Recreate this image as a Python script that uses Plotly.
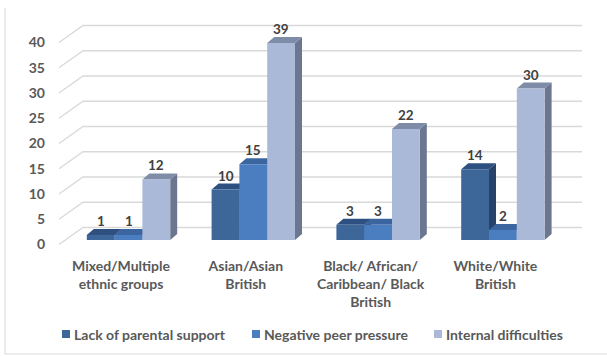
import plotly.graph_objects as go

# ---- data ----
categories = ["Mixed/Multiple<br>ethnic groups", "Asian/Asian<br>British",
              "Black/ African/<br>Caribbean/ Black<br>British", "White/White<br>British"]
series_names = ["Lack of parental support", "Negative peer pressure", "Internal difficulties"]
lack_of_parental_support = [1, 10, 3, 14]
negative_peer_pressure = [1, 15, 3, 2]
internal_difficulties = [12, 39, 22, 30]
y_ticks = [0, 5, 10, 15, 20, 25, 30, 35, 40]

series_values = [lack_of_parental_support, negative_peer_pressure, internal_difficulties]
front_colors = ["#3d6699", "#4a7ec0", "#aab9d7"]
top_colors = ["#2e5080", "#3a659e", "#7f8ca8"]
side_colors = ["#27436a", "#33578a", "#6a778e"]

# ---- geometry (pixels) ----
W_FIG, H_FIG = 607, 356
L, R, T, B = 52, 595, 15, 252
PX_PER_CAT = 124.8
CAT0_PX = 128.5
PX_PER_UNIT = 5.05
BASE_PX = 240
BAR_W = 27.8 / PX_PER_CAT
DEPTH_DX, DEPTH_DY = 7, 6          # bar depth in px (right, up)
FRONT_DY = 4.5                     # front plane sits lower than bar plane
BACK_DY = 12.5                     # back wall sits higher than bar plane
FRONT_X_PX, BACK_X_PX, END_X_PX = 59, 83, 582
CAT_SHIFT = 7.5 / PX_PER_CAT

x_range = [(L - CAT0_PX) / PX_PER_CAT, (R - CAT0_PX) / PX_PER_CAT]
y_range = [(BASE_PX - B) / PX_PER_UNIT, (BASE_PX - T) / PX_PER_UNIT]


def xu(px):
    return (px - CAT0_PX) / PX_PER_CAT


def dxu(px):
    return px / PX_PER_CAT


def dyu(px):
    return px / PX_PER_UNIT


def px_to_paper_x(px):
    return (px - L) / (R - L)


def px_to_paper_y(py):
    return (B - py) / (B - T)


fig = go.Figure()
shapes = []
annotations = []

# back wall gridlines with the left-wall diagonals
for v in y_ticks:
    yf = v - dyu(FRONT_DY)
    yb = v + dyu(BACK_DY)
    path = f"M {xu(FRONT_X_PX)} {yf} L {xu(BACK_X_PX)} {yb} L {xu(END_X_PX)} {yb}"
    shapes.append(dict(type="path", path=path, xref="x", yref="y",
                       line=dict(color="#d9d9d9", width=1.3), layer="below"))

# bars: front faces as traces, top and side faces as shapes
for i, (name, vals) in enumerate(zip(series_names, series_values)):
    offset = -1.5 * BAR_W + i * BAR_W
    fig.add_trace(go.Bar(
        x=list(range(len(vals))), y=vals, name=name,
        width=BAR_W, offset=offset,
        marker=dict(color=front_colors[i], line=dict(width=0)),
        showlegend=False, hoverinfo="y",
    ))

for k in range(len(categories)):
    for i, vals in enumerate(series_values):
        v = vals[k]
        x0 = k - 1.5 * BAR_W + i * BAR_W
        x1 = x0 + BAR_W
        ddx, ddy = dxu(DEPTH_DX), dyu(DEPTH_DY)
        side = (f"M {x1} 0 L {x1} {v} L {x1 + ddx} {v + ddy} "
                f"L {x1 + ddx} {ddy} Z")
        top = (f"M {x0} {v} L {x1} {v} L {x1 + ddx} {v + ddy} "
               f"L {x0 + ddx} {v + ddy} Z")
        shapes.append(dict(type="path", path=side, xref="x", yref="y",
                           fillcolor=side_colors[i], line=dict(width=0), layer="below"))
        shapes.append(dict(type="path", path=top, xref="x", yref="y",
                           fillcolor=top_colors[i], line=dict(width=0), layer="below"))
        annotations.append(dict(
            x=(x0 + x1) / 2, y=v, xref="x", yref="y", text=str(v),
            showarrow=False, yshift=14, xanchor="center", yanchor="middle",
            font=dict(family="Lato", size=13.5, color="#404040", weight="bold"),
        ))

# axes for the front-plane labels
fig.add_trace(go.Scatter(x=[], y=[], xaxis="x2", yaxis="y2",
                         showlegend=False, hoverinfo="skip"))

# legend
legend_px = [62, 252, 434]
LEGEND_Y = 334
for i, name in enumerate(series_names):
    shapes.append(dict(type="rect", xref="paper", yref="paper",
                       x0=px_to_paper_x(legend_px[i]), x1=px_to_paper_x(legend_px[i] + 8),
                       y0=px_to_paper_y(LEGEND_Y + 4), y1=px_to_paper_y(LEGEND_Y - 4),
                       fillcolor=front_colors[i], line=dict(width=0)))
    annotations.append(dict(
        x=px_to_paper_x(legend_px[i] + 10), y=px_to_paper_y(LEGEND_Y),
        xref="paper", yref="paper", text=name, showarrow=False,
        xanchor="left", yanchor="middle",
        font=dict(family="Lato", size=14, color="#595959", weight="bold"),
    ))

# partial frame of the chart area
shapes.append(dict(type="path", xref="paper", yref="paper",
                   path=(f"M {px_to_paper_x(5)} {px_to_paper_y(8)} "
                         f"L {px_to_paper_x(5)} {px_to_paper_y(354)} "
                         f"L {px_to_paper_x(607)} {px_to_paper_y(354)}"),
                   line=dict(color="#d9d9d9", width=1)))

fig.update_layout(
    width=W_FIG, height=H_FIG,
    margin=dict(l=L, r=W_FIG - R, t=T, b=H_FIG - B, pad=0),
    paper_bgcolor="white", plot_bgcolor="rgba(0,0,0,0)",
    barmode="overlay",
    shapes=shapes, annotations=annotations,
    xaxis=dict(range=x_range, visible=False, fixedrange=True),
    yaxis=dict(range=y_range, visible=False, fixedrange=True),
    xaxis2=dict(range=[x_range[0] + CAT_SHIFT, x_range[1] + CAT_SHIFT],
                overlaying="x", anchor="y", side="bottom",
                tickvals=list(range(len(categories))), ticktext=categories,
                showgrid=False, zeroline=False, showline=False, ticks="",
                ticklabelstandoff=4,
                tickfont=dict(family="Lato", size=14, color="#595959", weight="bold")),
    yaxis2=dict(range=[y_range[0] + dyu(FRONT_DY), y_range[1] + dyu(FRONT_DY)],
                overlaying="y", anchor="x", side="left",
                tickvals=y_ticks, showgrid=False, zeroline=False, showline=False,
                ticks="", ticklabelstandoff=6,
                tickfont=dict(family="Lato", size=14, color="#595959", weight="bold")),
    font=dict(family="Lato"),
)

fig.write_html("out.html", config={"displayModeBar": False})
